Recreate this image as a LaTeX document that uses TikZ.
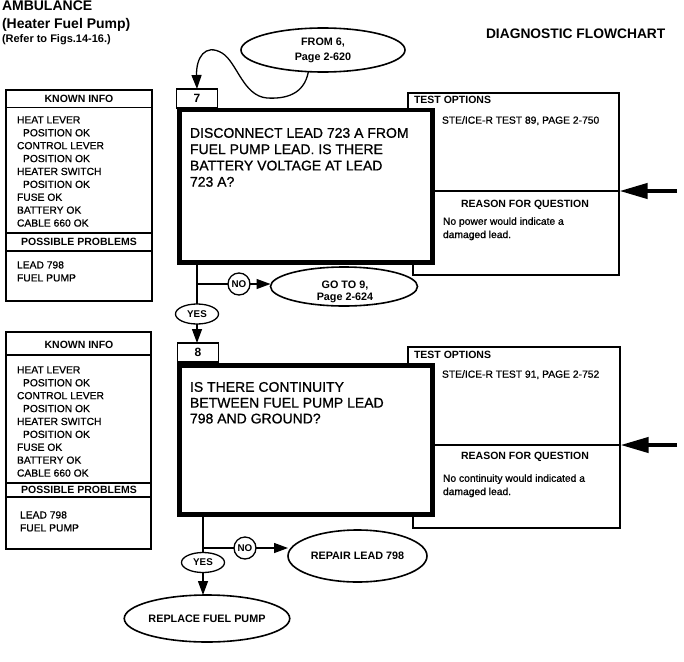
\documentclass[tikz,border=0pt]{standalone}
\usepackage{fontspec}
\setmainfont{Liberation Sans}
\newfontfamily\medfont{Liberation Sans}[FakeBold=0.9]
\usetikzlibrary{shapes.geometric,arrows.meta}
\newcommand{\fsz}[2]{\fontsize{#1}{#2}\selectfont}
\begin{document}
\begin{tikzpicture}[x=1pt,y=-1pt,
  every node/.style={inner sep=0pt, outer sep=0pt},
  thinline/.style={line width=1.1pt},
  qbox/.style={draw, rectangle, line width=4.5pt},
  numbox/.style={draw, rectangle, line width=1.1pt, minimum width=41pt, minimum height=19pt, font=\fsz{12}{14}\bfseries},
  oval/.style={draw, ellipse, line width=1.6pt, align=center, font=\fsz{10.8}{15}\bfseries},
  nocirc/.style={draw, circle, line width=1.3pt, minimum size=22pt, font=\fsz{9.8}{11}\bfseries},
  yesoval/.style={draw, ellipse, line width=1.3pt, minimum width=43pt, minimum height=20pt, font=\fsz{9.8}{11}\bfseries},
  conn/.style={line width=1.3pt},
  arr/.style={line width=1.3pt, -{Triangle[length=14pt,width=10pt]}},
  bigarr/.style={line width=4pt, -{Triangle[length=28pt,width=15pt]}},
  body/.style={font=\medfont\fsz{10.3}{12.9}, align=left, anchor=north west},
  reason/.style={font=\medfont\fsz{10.3}{13.3}, align=left, anchor=north west},
  head/.style={font=\fsz{10.5}{12}\bfseries, anchor=base},
  headw/.style={font=\fsz{10.5}{12}\bfseries, anchor=base west},
  opt/.style={font=\medfont\fsz{10.3}{12}, anchor=base west},
  question/.style={font=\medfont\fsz{14}{16.3}, align=left, anchor=north west},
]
\useasboundingbox (0,0) rectangle (684,661);

% ---------- titles ----------
\node[font=\fsz{14}{16}\bfseries, anchor=base west] (t1) at (2,10.5) {AMBULANCE};
\node[font=\fsz{14}{16}\bfseries, anchor=base west] (t2) at (2,29) {(Heater Fuel Pump)};
\node[font=\fsz{11}{13}\bfseries, anchor=base west] (t3) at (2,42) {(Refer to Figs.14-16.)};
\node[font=\fsz{13.8}{16}\bfseries, anchor=base west] (t4) at (486,38) {DIAGNOSTIC FLOWCHART};

% ---------- panel 1 ----------
% known info box
\draw[thinline] (6,90) rectangle (152,301);
\draw[thinline] (6,107.5) -- (152,107.5);
\draw[thinline] (6,233) -- (152,233);
\draw[thinline] (6,251) -- (152,251);
\node[head] (k1h) at (79,102.8) {KNOWN INFO};
\node[body] (k1b) at (17,116.3) {HEAT LEVER\\\hspace*{6pt}POSITION OK\\CONTROL LEVER\\\hspace*{6pt}POSITION OK\\HEATER SWITCH\\\hspace*{6pt}POSITION OK\\FUSE OK\\BATTERY OK\\CABLE 660 OK};
\node[head] (p1h) at (79,245.8) {POSSIBLE PROBLEMS};
\node[body] (p1b) at (17,261.3) {LEAD 798\\FUEL PUMP};

% test options box
\draw[thinline] (408,110) -- (408,93) -- (619,93) -- (619,275) -- (413,275) -- (413,262);
\draw[thinline] (432,191) -- (619,191);
\node[headw] (o1h) at (414,103.8) {TEST OPTIONS};
\node[opt] (o1t) at (442,123.7) {STE/ICE-R TEST 89, PAGE 2-750};
\node[head] (r1h) at (525,207.8) {REASON FOR QUESTION};
\node[reason] (r1t) at (443,217.3) {No power would indicate a\\damaged lead.};
\coordinate (a1s) at (677,191);
\coordinate (a1e) at (619.5,191);
\draw[bigarr] (a1s) -- (a1e);

% question box
\node[qbox, minimum width=253pt, minimum height=152.5pt] (q7) at (306,186.25) {};
\node[question] (q7t) at (190,128) {DISCONNECT LEAD 723 A FROM\\FUEL PUMP LEAD. IS THERE\\BATTERY VOLTAGE AT LEAD\\723 A?};
\node[numbox] (s7) at (197,98.5) {7};

% from 6
\node[oval, minimum width=164pt, minimum height=44pt] (from6) at (323,50) {FROM 6,\\Page 2-620};
\draw[arr] (from6.236) .. controls (304,95) and (285,99) .. (267,98)
  .. controls (243,96) and (237,62) .. (222,53)
  .. controls (205,43) and (196,58) .. (s7.north);

% decisions 1
\node[nocirc] (no1) at (239,284) {NO};
\node[yesoval] (yes1) at (197,314) {YES};
\node[oval, minimum width=147pt, minimum height=39pt] (go9) at (344,286.5) {};
\node[font=\fsz{10.8}{12.5}\bfseries, align=center] (go9t) at (345,292) {GO TO 9,\\Page 2-624};
\coordinate (j1) at (197,284);
\draw[conn] (q7.south -| j1) -- (yes1.north);
\draw[conn] (j1) -- (no1.west);
\draw[arr] (no1.east) -- (no1.east -| go9.west);

% ---------- panel 2 ----------
\draw[thinline] (6,332) rectangle (151,549);
\draw[thinline] (6,355) -- (151,355);
\draw[thinline] (6,483) -- (151,483);
\draw[thinline] (6,497) -- (151,497);
\node[head] (k2h) at (79,348.3) {KNOWN INFO};
\node[body] (k2b) at (17,366.3) {HEAT LEVER\\\hspace*{6pt}POSITION OK\\CONTROL LEVER\\\hspace*{6pt}POSITION OK\\HEATER SWITCH\\\hspace*{6pt}POSITION OK\\FUSE OK\\BATTERY OK\\CABLE 660 OK};
\node[head] (p2h) at (79,493.8) {POSSIBLE PROBLEMS};
\node[body] (p2b) at (20,511.3) {LEAD 798\\FUEL PUMP};

\draw[thinline] (408,366) -- (408,347) -- (620,347) -- (620,528) -- (413,528) -- (413,514);
\draw[thinline] (432,445) -- (620,445);
\node[headw] (o2h) at (414,358.8) {TEST OPTIONS};
\node[opt] (o2t) at (442,377.7) {STE/ICE-R TEST 91, PAGE 2-752};
\node[head] (r2h) at (525,459.8) {REASON FOR QUESTION};
\node[reason] (r2t) at (443,474.3) {No continuity would indicated a\\damaged lead.};
\coordinate (a2s) at (677,445);
\coordinate (a2e) at (620.5,445);
\draw[bigarr] (a2s) -- (a2e);

\node[qbox, minimum width=253pt, minimum height=149pt] (q8) at (306,440) {};
\node[question, font=\medfont\fsz{14}{15.8}] (q8t) at (190,382) {IS THERE CONTINUITY\\BETWEEN FUEL PUMP LEAD\\798 AND GROUND?};
\node[numbox] (s8) at (198,352.5) {8};
\draw[arr] (yes1.south) -- (yes1.south |- s8.north);

% decisions 2
\node[nocirc] (no2) at (245,548) {NO};
\node[yesoval] (yes2) at (203,562.5) {YES};
\node[oval, minimum width=139pt, minimum height=52pt] (repair) at (357.5,556) {REPAIR LEAD 798};
\node[oval, minimum width=130pt, minimum height=47pt] (replace) at (207,618.5) {REPLACE FUEL PUMP};
\coordinate (j2) at (203,548);
\draw[conn] (q8.south -| j2) -- (yes2.north);
\draw[conn] (j2) -- (no2.west);
\draw[arr] (no2.east) -- (no2.east -| repair.west);
\draw[arr] (yes2.south) -- (yes2.south |- replace.north);
\end{tikzpicture}
\end{document}
